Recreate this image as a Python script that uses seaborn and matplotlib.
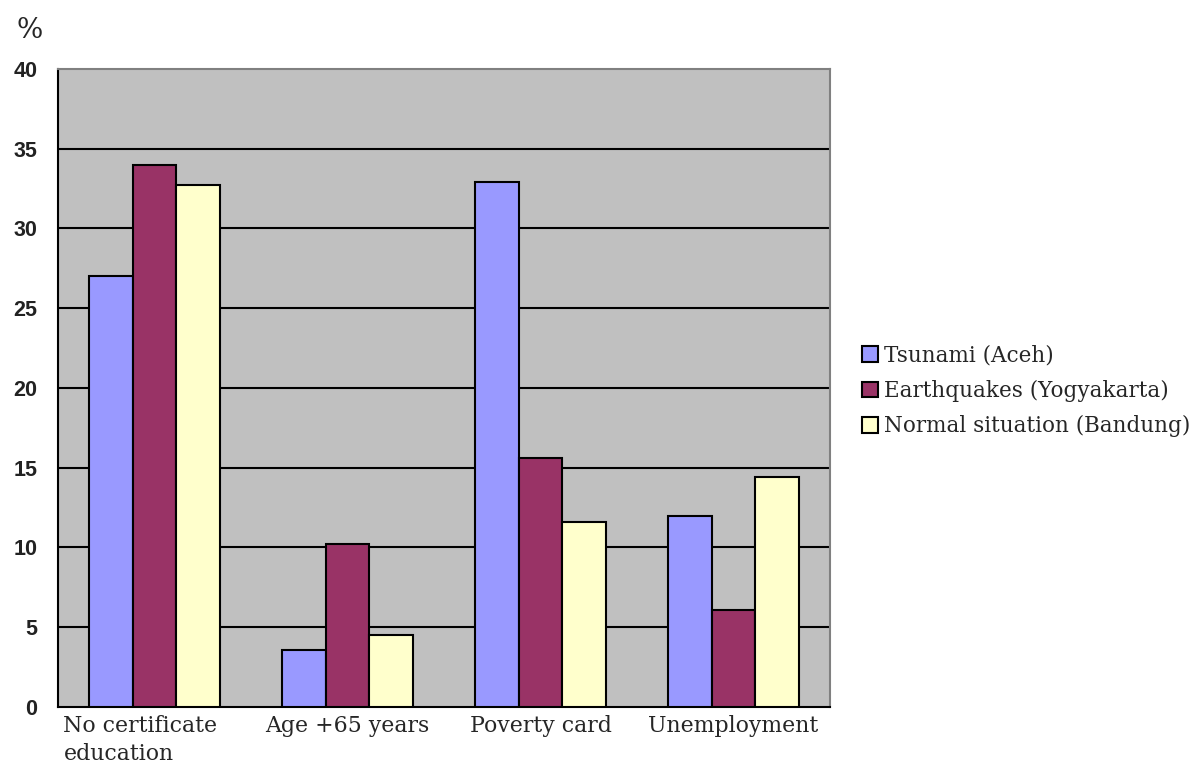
import pandas as pd
import matplotlib.pyplot as plt
import matplotlib.transforms as mtransforms
import seaborn as sns

# values (%)
categories = ["No certificate\neducation", "Age +65 years", "Poverty card", "Unemployment"]
series = ["Tsunami (Aceh)", "Earthquakes (Yogyakarta)", "Normal situation (Bandung)"]
tsunami = [27.0, 3.6, 32.9, 12.0]
earthquakes = [34.0, 10.2, 15.6, 6.1]
normal = [32.7, 4.5, 11.6, 14.4]
colors = ["#9999FF", "#993366", "#FFFFCC"]

df = pd.DataFrame({
    "category": categories * 3,
    "series": [s for s in series for _ in categories],
    "value": tsunami + earthquakes + normal,
})

sns.set_style("white")
serif = ["DejaVu Serif"]
sans = ["Liberation Sans", "DejaVu Sans"]

fig = plt.figure(figsize=(12, 7.77), dpi=100)
ax = fig.add_axes([0.0483, 0.0901, 0.6434, 0.8211])
ax.set_facecolor("#C0C0C0")

sns.barplot(data=df, x="category", y="value", hue="series", order=categories,
            hue_order=series, palette=colors, width=0.675, edgecolor="black",
            linewidth=1.5, saturation=1, ax=ax, zorder=3)

ax.set_ylim(0, 40)
ax.set_xlim(-0.5, 3.5)
ax.set_yticks(range(0, 41, 5))
for y in range(5, 40, 5):
    ax.axhline(y, color="black", lw=1.5, zorder=1)

for side in ["top", "right"]:
    ax.spines[side].set_color("#808080")
    ax.spines[side].set_linewidth(1.5)
for side in ["left", "bottom"]:
    ax.spines[side].set_color("black")
    ax.spines[side].set_linewidth(1.5)

ax.set_xlabel("")
ax.set_ylabel("")
ax.set_xticks(range(len(categories)))
ax.set_xticklabels(categories, family=serif, fontsize=15.8, multialignment="left",
                   linespacing=1.35)
ax.set_xticks([0.5, 1.5, 2.5], minor=True)
ax.tick_params(axis="x", which="major", length=0, pad=6)
ax.tick_params(axis="x", which="minor", direction="in", length=5, width=1.5, color="black")
ax.tick_params(axis="y", direction="in", length=5, width=1.5, color="black", pad=15)
for lbl in ax.get_yticklabels():
    lbl.set_family(sans)
    lbl.set_fontsize(15.5)
    lbl.set_fontweight("bold")
    lbl.set_color("#222222")

# the wrapped first label sits left of its tick in the reference
first = ax.get_xticklabels()[0]
first.set_transform(first.get_transform() +
                    mtransforms.ScaledTranslation(-0.14, 0, fig.dpi_scale_trans))

fig.text(17 / 1200, 1 - 38 / 777, "%", family=serif, fontsize=20)

handles, labels = ax.get_legend_handles_labels()
ax.legend(handles, labels, loc="center left", bbox_to_anchor=(853 / 1200, 1 - 391 / 777),
          bbox_transform=fig.transFigure, frameon=False, prop={"family": serif, "size": 15.5},
          handlelength=0.75, handleheight=0.75, handletextpad=0.3, labelspacing=0.62,
          borderaxespad=0)

fig.savefig("out.png", dpi=100)
